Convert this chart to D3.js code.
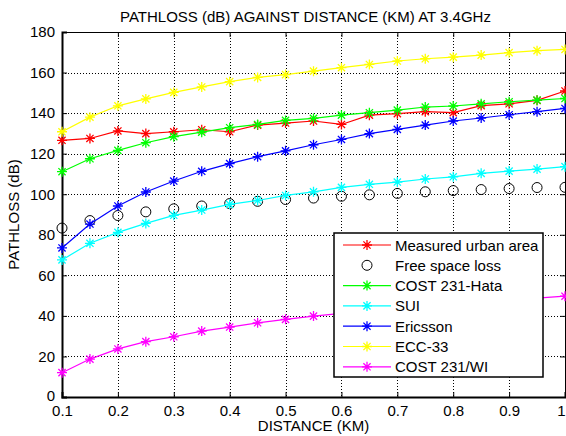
<!DOCTYPE html>
<html>
<head>
<meta charset="utf-8">
<script src="https://cdn.jsdelivr.net/npm/d3@7"></script>
<style>
body { margin: 0; background: #fff; }
svg text { font-family: "Liberation Sans", Arial, sans-serif; fill: #000; }
</style>
</head>
<body>
<svg id="chart" width="566" height="436"></svg>
<script>
// distance in km
var distance = [0.1, 0.15, 0.2, 0.25, 0.3, 0.35, 0.4, 0.45, 0.5, 0.55, 0.6, 0.65, 0.7, 0.75, 0.8, 0.85, 0.9, 0.95, 1.0];

var measured = [126.6, 127.5, 131.2, 129.9, 130.8, 131.8, 130.8, 134.1, 135.1, 136.1, 134.4, 139.0, 139.7, 140.7, 140.2, 143.7, 144.6, 146.3, 150.9];
var freeSpace = [83.3, 87.0, 89.5, 91.3, 92.8, 94.2, 95.4, 96.5, 97.4, 98.1, 99.0, 99.7, 100.4, 101.2, 101.8, 102.3, 102.8, 103.3, 103.4];
var costHata = [111.1, 117.5, 121.6, 125.4, 128.4, 130.6, 132.8, 134.4, 136.4, 137.4, 139.0, 140.2, 141.5, 143.0, 143.5, 144.6, 145.6, 146.4, 147.2];
var sui = [67.6, 75.8, 81.2, 85.6, 89.6, 92.2, 95.0, 96.9, 99.4, 101.2, 103.4, 104.9, 106.0, 107.5, 108.6, 110.3, 111.4, 112.4, 113.6];
var ericsson = [73.5, 85.3, 94.2, 101.1, 106.5, 111.3, 115.1, 118.5, 121.4, 124.4, 127.0, 129.9, 132.0, 134.1, 136.1, 137.6, 139.2, 140.7, 142.3];
var ecc33 = [130.8, 138.0, 143.6, 147.0, 150.2, 152.9, 155.5, 157.6, 159.0, 160.7, 162.4, 164.0, 165.7, 166.8, 167.6, 168.6, 169.8, 170.8, 171.4];
var costWI = [12.0, 18.7, 23.7, 27.3, 29.7, 32.5, 34.5, 36.6, 38.3, 39.9, 41.2, 42.5, 43.7, 44.8, 45.9, 46.9, 47.9, 48.8, 49.7];

var xTicks = [0.1, 0.2, 0.3, 0.4, 0.5, 0.6, 0.7, 0.8, 0.9, 1];
var yTicks = [0, 20, 40, 60, 80, 100, 120, 140, 160, 180];

var series = [
    {name: "Measured urban area", values: measured, color: "#ff0000", marker: "star", line: true},
    {name: "Free space loss", values: freeSpace, color: "#000000", marker: "circle", line: false},
    {name: "COST 231-Hata", values: costHata, color: "#00ff00", marker: "star", line: true},
    {name: "SUI", values: sui, color: "#00ffff", marker: "star", line: true},
    {name: "Ericsson", values: ericsson, color: "#0000ff", marker: "star", line: true},
    {name: "ECC-33", values: ecc33, color: "#ffff00", marker: "star", line: true},
    {name: "COST 231/WI", values: costWI, color: "#ff00ff", marker: "star", line: true}
];

var margin = {left: 62, top: 32, right: 1, bottom: 39};
var W = 566, H = 436;
var w = W - margin.left - margin.right;
var h = H - margin.top - margin.bottom;

var svg = d3.select("#chart");
var g = svg.append("g").attr("transform", "translate(" + margin.left + "," + margin.top + ")");

var x = d3.scaleLinear().domain([0.1, 1]).range([0, w]);
var y = d3.scaleLinear().domain([0, 180]).range([h, 0]);

// grid
g.append("g").selectAll("line.vg")
    .data(xTicks.slice(1, -1))
    .enter().append("line")
    .attr("x1", function(d){ return Math.round(x(d)) + 0.5; })
    .attr("x2", function(d){ return Math.round(x(d)) + 0.5; })
    .attr("y1", 0).attr("y2", h)
    .style("stroke", "#000").style("stroke-width", 1).style("stroke-dasharray", "1,2");
g.append("g").selectAll("line.hg")
    .data(yTicks.slice(1, -1))
    .enter().append("line")
    .attr("y1", function(d){ return Math.round(y(d)) + 0.5; })
    .attr("y2", function(d){ return Math.round(y(d)) + 0.5; })
    .attr("x1", 0).attr("x2", w)
    .style("stroke", "#000").style("stroke-width", 1).style("stroke-dasharray", "1,2");

// axes
var xAxis = d3.axisBottom(x).tickValues(xTicks).tickSize(-5).tickPadding(8)
    .tickFormat(function(d){ return d === 1 ? "1" : d3.format(".1f")(d); });
var yAxis = d3.axisLeft(y).tickValues(yTicks).tickSize(-5).tickPadding(7);

var gx = g.append("g").attr("transform", "translate(0," + h + ")").call(xAxis);
var gy = g.append("g").call(yAxis);
g.append("g").call(d3.axisTop(x).tickValues(xTicks).tickSize(-5).tickFormat(""));
g.append("g").attr("transform", "translate(" + w + ",0)").call(d3.axisRight(y).tickValues(yTicks).tickSize(-5).tickFormat(""));

g.selectAll(".domain").style("stroke", "#000");
gx.select(".domain").style("stroke-width", 2);
gy.select(".domain").style("stroke-width", 2);
g.selectAll(".tick text").style("font-size", "15px").style("font-family", "Liberation Sans, Arial, sans-serif");
// keep the last x label inside the picture
gx.selectAll(".tick text").filter(function(d){ return d === 1; }).attr("text-anchor", "end").attr("dx", "0");
gy.selectAll(".tick text").filter(function(d){ return d === 0; }).attr("dy", "0.2em");

// lines and markers
var line = d3.line()
    .x(function(d, i){ return x(distance[i]); })
    .y(function(d){ return y(d); });

function starPath(s){
    var d = s * 0.72;
    return "M" + (-s) + ",0L" + s + ",0M0," + (-s) + "L0," + s +
        "M" + (-d) + "," + (-d) + "L" + d + "," + d +
        "M" + (-d) + "," + d + "L" + d + "," + (-d);
}

function drawMarker(sel, s){
    if(s.marker === "circle"){
        sel.append("circle").attr("r", 5)
            .style("fill", "none").style("stroke", s.color).style("stroke-width", 1);
    } else {
        sel.append("path").attr("d", starPath(5))
            .style("fill", "none").style("stroke", s.color).style("stroke-width", 1.3);
    }
}

series.forEach(function(s){
    if(s.line){
        g.append("path").datum(s.values)
            .attr("d", line)
            .style("fill", "none").style("stroke", s.color).style("stroke-width", 1.2);
    }
    g.append("g").selectAll("g")
        .data(s.values)
        .enter().append("g")
        .attr("transform", function(d, i){ return "translate(" + x(distance[i]) + "," + y(d) + ")"; })
        .each(function(){ drawMarker(d3.select(this), s); });
});

// legend
var lg = svg.append("g").attr("transform", "translate(334,233)");
lg.append("rect").attr("width", 209).attr("height", 144)
    .style("fill", "#fff").style("stroke", "#000").style("stroke-width", 1.5);
series.forEach(function(s, i){
    var row = lg.append("g").attr("transform", "translate(0," + (12 + i * 20.3) + ")");
    if(s.line){
        row.append("line").attr("x1", 9).attr("x2", 57).attr("y1", 0).attr("y2", 0)
            .style("stroke", s.color).style("stroke-width", 1.2);
    }
    var m = row.append("g").attr("transform", "translate(33,0)");
    drawMarker(m, s);
    row.append("text").attr("x", 61).attr("y", 5.5).style("font-size", "15px").text(s.name);
});

// title and labels
svg.append("text").attr("x", margin.left + w / 2 - 8).attr("y", 22)
    .attr("text-anchor", "middle").style("font-size", "15px")
    .text("PATHLOSS (dB) AGAINST DISTANCE (KM) AT 3.4GHz");
svg.append("text").attr("x", margin.left + w / 2).attr("y", 431)
    .attr("text-anchor", "middle").style("font-size", "15px")
    .text("DISTANCE (KM)");
svg.append("text").attr("transform", "translate(19," + (margin.top + h / 2) + ") rotate(-90)")
    .attr("text-anchor", "middle").style("font-size", "15px")
    .text("PATHLOSS (dB)");
</script>
</body>
</html>
